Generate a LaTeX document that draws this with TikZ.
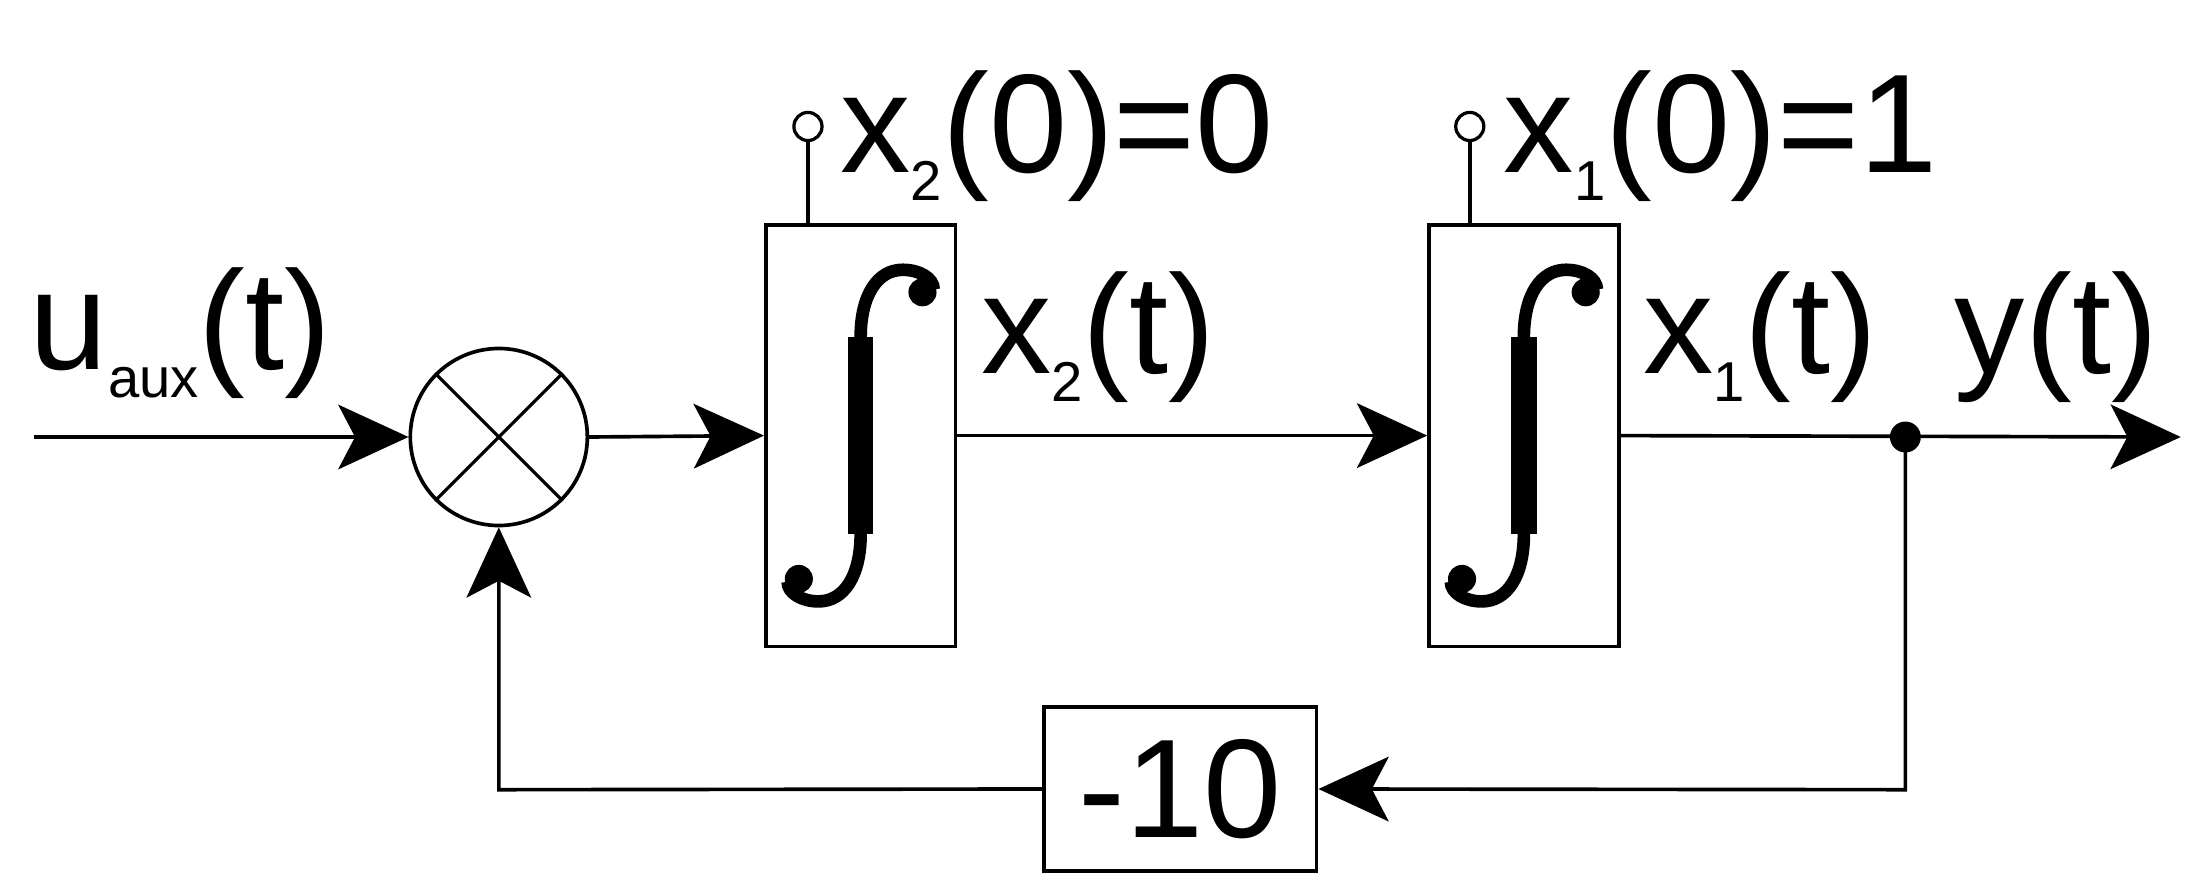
\documentclass[tikz,border=0pt]{standalone}
\usepackage{fontspec}
\setmainfont{Liberation Sans}
\usetikzlibrary{arrows.meta}
\newcommand{\lowidx}[1]{\raisebox{-0.2em}{\fontsize{40}{40}\selectfont #1}}
\begin{document}
\begin{tikzpicture}[x=1pt,y=-1pt,line width=2.6pt,
  ar/.style={-{Stealth[length=50pt,width=46pt,inset=12pt]}},
  blk/.style={draw,line width=2.6pt,inner sep=0pt},
  lbl/.style={font=\fontsize{100}{100}\selectfont,inner sep=0pt,anchor=base west},
  ic/.style={draw,circle,line width=2.3pt,minimum size=20pt,inner sep=0pt,fill=white},
  intg/.pic={
    \draw[line width=18pt] (0,-70) -- (0,70);
    \draw[line width=9pt] (0,-70) .. controls (0,-100) and (12,-118) .. (30,-118) .. controls (42,-118) and (52,-112) .. (52,-104);
    \fill (44,-102) circle (10pt);
    \draw[line width=9pt] (0,70) .. controls (0,100) and (-12,118) .. (-30,118) .. controls (-42,118) and (-52,112) .. (-52,104);
    \fill (-44,102) circle (10pt);
  }]
\useasboundingbox (0,0) rectangle (1560,635);
\node[blk,circle,minimum size=126pt] (s) at (355,311) {};
\draw[line width=2.3pt] (s.north west) -- (s.south east) (s.north east) -- (s.south west);
\node[blk,minimum width=135pt,minimum height=300pt] (b1) at (612.5,310) {};
\node[blk,minimum width=135pt,minimum height=300pt] (b2) at (1084.5,310) {};
\node[blk,minimum width=194pt,minimum height=117pt,font=\fontsize{100}{100}\selectfont] (g) at (840,561.5) {-10};
\pic at (b1.center) {intg};
\pic at (b2.center) {intg};
\node[ic] (c1) at (575,90) {};
\node[ic] (c2) at (1046,90) {};
\draw (c1) -- (c1|-b1.north);
\draw (c2) -- (c2|-b2.north);
\coordinate (in) at (24,311);
\coordinate (out) at (1552,311);
\coordinate (d) at (1356,311);
\coordinate (fb) at (1356,562);
\coordinate (fl) at (355,562);
\draw[ar] (in) -- (s.west);
\draw[ar] (s.east) -- (b1.west);
\draw[ar] (b1.east) -- (b2.west);
\draw[ar] (b2.east) -- (out);
\fill (d) circle (11pt);
\draw[ar] (d) -- (fb) -- (g.east);
\draw[ar] (g.west) -- (fl) -- (s.south);
\node[lbl] (l1) at (20,263) {u\lowidx{aux}(t)};
\node[lbl] (l2) at (597,123) {x\lowidx{2}(0)=0};
\node[lbl] (l3) at (697,266) {x\lowidx{2}(t)};
\node[lbl] (l4) at (1069,123) {x\lowidx{1}(0)=1};
\node[lbl] (l5) at (1168,266) {x\lowidx{1}(t)};
\node[lbl] (l6) at (1390,266) {y(t)};
\end{tikzpicture}
\end{document}
